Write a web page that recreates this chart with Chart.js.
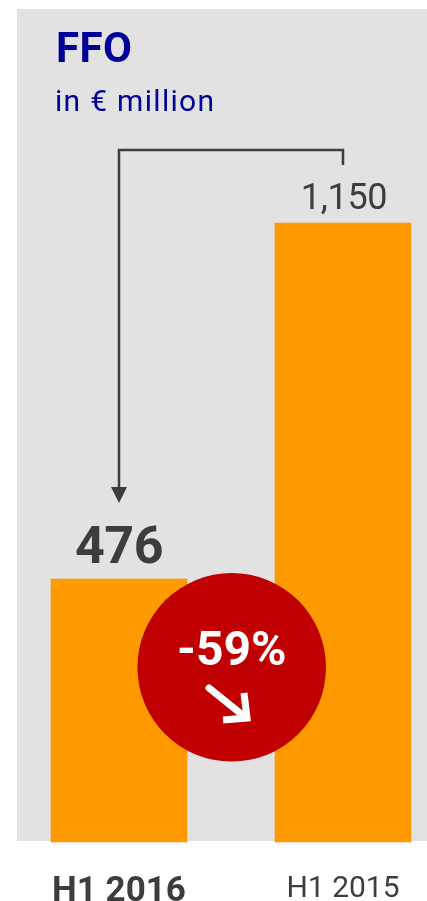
<!DOCTYPE html>
<html>
<head>
<meta charset="utf-8">
<title>FFO</title>
<script src="https://cdn.jsdelivr.net/npm/chart.js@4/dist/chart.umd.js"></script>
<style>
  html, body { margin: 0; padding: 0; background: #fff; }
  canvas { display: block; }
</style>
</head>
<body>
<canvas id="canvas" width="427" height="901"></canvas>
<script>
const categories = ['H1 2016', 'H1 2015']
const ffoValues = [476, 1150]
const valueLabels = ['476', '1,150']
const changeLabel = '-59%'
const titleText = 'FFO'
const unitText = 'in € million'

// bars stand a little below the zero line
const axisFloor = -22

const INK = '#3d3d3d'
const NAVY = '#000099'
const FONT = 'Roboto, sans-serif'

const text = (ctx, str, x, y, font, color, align, spacing) => {
  ctx.font = font
  ctx.fillStyle = color
  ctx.textAlign = align
  ctx.textBaseline = 'alphabetic'
  ctx.letterSpacing = spacing || '0px'
  ctx.fillText(str, x, y)
  ctx.letterSpacing = '0px'
}

const panel = {
  id: 'panel',
  beforeDraw(chart) {
    const ctx = chart.ctx
    ctx.save()
    ctx.fillStyle = '#e2e2e2'
    ctx.fillRect(17, 9, 410, 832)
    ctx.restore()
  },
}

const overlay = {
  id: 'overlay',
  afterDraw(chart) {
    const ctx = chart.ctx
    const bars = chart.getDatasetMeta(0).data
    const x1 = bars[0].x
    const x2 = bars[1].x
    const midX = (x1 + x2) / 2 + 0.7

    ctx.save()
    text(ctx, titleText, 56, 62, '700 42px ' + FONT, NAVY, 'left', '0.5px')
    text(ctx, unitText, 55, 111, '400 30px ' + FONT, NAVY, 'left', '1.3px')

    text(ctx, valueLabels[0], x1, bars[0].y - 16, '700 52px ' + FONT, INK, 'center', '-0.5px')
    text(ctx, valueLabels[1], x2 + 1, bars[1].y - 14, '400 36px ' + FONT, INK, 'center', '-0.3px')

    // bracket running from the prior year down to the current bar
    ctx.strokeStyle = INK
    ctx.lineWidth = 2.5
    ctx.beginPath()
    ctx.moveTo(x2, 165)
    ctx.lineTo(x2, 150)
    ctx.lineTo(x1, 150)
    ctx.lineTo(x1, 490)
    ctx.stroke()
    ctx.fillStyle = INK
    ctx.beginPath()
    ctx.moveTo(x1 - 8, 487)
    ctx.lineTo(x1 + 8, 487)
    ctx.lineTo(x1, 503)
    ctx.closePath()
    ctx.fill()

    // change badge
    ctx.fillStyle = '#c00000'
    ctx.beginPath()
    ctx.arc(midX, 667.3, 94.3, 0, Math.PI * 2)
    ctx.fill()
    text(ctx, changeLabel, midX, 665, '700 48px ' + FONT, '#fff', 'center')

    ctx.strokeStyle = '#fff'
    ctx.lineWidth = 7
    ctx.lineCap = 'round'
    ctx.lineJoin = 'miter'
    ctx.beginPath()
    ctx.moveTo(209, 688)
    ctx.lineTo(245, 717)
    ctx.stroke()
    ctx.lineCap = 'butt'
    ctx.beginPath()
    ctx.moveTo(244, 693)
    ctx.lineTo(247, 718)
    ctx.lineTo(223, 720)
    ctx.stroke()
    ctx.restore()
  },
}

const canvas = document.getElementById('canvas')
const chart = new Chart(canvas, {
  type: 'bar',
  data: {
    labels: categories,
    datasets: [
      {
        data: ffoValues,
        backgroundColor: '#ff9900',
        barThickness: 136,
        base: axisFloor,
        clip: false,
      },
    ],
  },
  options: {
    responsive: false,
    animation: false,
    events: [],
    layout: { padding: { left: 119, right: 84, top: 223, bottom: 0 } },
    plugins: {
      legend: { display: false },
      tooltip: { enabled: false },
    },
    scales: {
      x: {
        offset: false,
        grid: { display: false, drawTicks: false },
        border: { display: false },
        afterFit(scale) {
          scale.height = 59
          scale.paddingLeft = 0
          scale.paddingRight = 0
        },
        ticks: {
          autoSkip: false,
          maxRotation: 0,
          padding: 29,
          color: INK,
          font: (c) =>
            c.index === 0
              ? { family: FONT, size: 35, weight: '700' }
              : { family: FONT, size: 30, weight: '400' },
        },
      },
      y: {
        display: false,
        min: axisFloor,
        max: 1150,
      },
    },
  },
  plugins: [panel, overlay],
})
</script>
</body>
</html>
